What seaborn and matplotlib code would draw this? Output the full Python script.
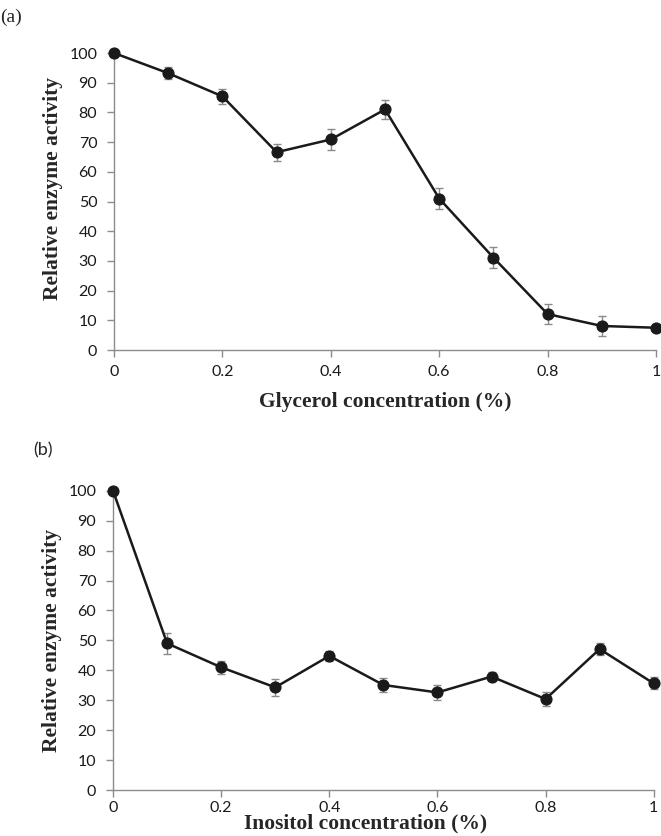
import matplotlib
matplotlib.use("Agg")
import matplotlib.pyplot as plt
import seaborn as sns
import pandas as pd
import numpy as np

conc = [0, 0.1, 0.2, 0.3, 0.4, 0.5, 0.6, 0.7, 0.8, 0.9, 1.0]
glycerol = [100, 93.2, 85.4, 66.6, 70.9, 81.0, 51.0, 31.1, 12.1, 8.1, 7.5]
glycerol_err = [0.5, 2.0, 2.5, 2.8, 3.6, 3.2, 3.4, 3.6, 3.5, 3.3, 1.0]
inositol = [100, 49.0, 41.0, 34.3, 44.8, 35.1, 32.6, 37.9, 30.4, 47.1, 35.6]
inositol_err = [0.5, 3.6, 2.1, 2.8, 1.8, 2.4, 2.5, 1.5, 2.4, 2.1, 2.0]
xticks = [0, 0.2, 0.4, 0.6, 0.8, 1.0]
xticklabels = ["0", "0.2", "0.4", "0.6", "0.8", "1"]
yticks = list(range(0, 101, 10))

sns.set_style("white")
plt.rcParams['font.family'] = ['Lato', 'DejaVu Sans']

fig = plt.figure(figsize=(6.61, 8.36), dpi=100)
ax_a = fig.add_axes([0.1725, 0.5813, 0.820, 0.3553])
ax_b = fig.add_axes([0.171, 0.055, 0.818, 0.358])

spine_col = "#8c8c8c"
label_font = dict(family="Liberation Serif", weight="bold", size=15.5)

def draw(ax, y, yerr, xlabel, xpad, xlabel_coords, ylabel_coords):
    df = pd.DataFrame({"x": conc, "y": y})
    ax.errorbar(conc, y, yerr=yerr, fmt="none", ecolor="#8a8a8a",
                elinewidth=1.0, capsize=3, capthick=1.0, zorder=2, clip_on=False)
    sns.lineplot(data=df, x="x", y="y", ax=ax, color="#1a1a1a", linewidth=1.8,
                 marker="o", markersize=8, markeredgecolor="#1a1a1a",
                 markerfacecolor="#1a1a1a", zorder=3, clip_on=False)
    ax.set_xlim(0, 1)
    ax.set_ylim(0, 100)
    ax.set_xticks(xticks)
    ax.set_xticklabels(xticklabels)
    ax.set_yticks(yticks)
    for s in ["top", "right"]:
        ax.spines[s].set_visible(False)
    for s in ["left", "bottom"]:
        ax.spines[s].set_color(spine_col)
        ax.spines[s].set_linewidth(1.0)
    ax.tick_params(axis="both", which="major", direction="out", length=5,
                   width=1.0, color=spine_col, labelsize=11.5, labelcolor="#1a1a1a",
                   left=True, bottom=True)
    ax.tick_params(axis="x", pad=xpad)
    ax.tick_params(axis="y", pad=7)
    ax.set_xlabel(xlabel, fontdict=label_font)
    ax.set_ylabel("Relative enzyme activity", fontdict=label_font)
    ax.xaxis.set_label_coords(*xlabel_coords)
    ax.yaxis.set_label_coords(*ylabel_coords)
    ax.grid(False)

draw(ax_a, glycerol, glycerol_err, "Glycerol concentration (%)", 6,
     (0.5, -0.14), (-0.094, 0.545))
draw(ax_b, inositol, inositol_err, "Inositol concentration (%)", 3,
     (0.467, -0.078), (-0.094, 0.5))

fig.text(0.0, 0.99, "(a)", family="Liberation Serif", size=14, va="top", ha="left")
fig.text(0.05, 0.4617, "(b)", family=["Lato", "DejaVu Sans"], size=13, va="center", ha="left")

fig.savefig("out.png", dpi=100, facecolor="white")
